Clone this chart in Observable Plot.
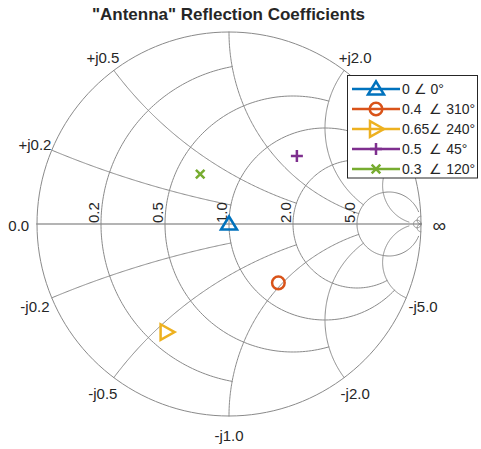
<!DOCTYPE html>
<html><head><meta charset="utf-8">
<script src="https://cdn.jsdelivr.net/npm/d3@7"></script>
<script src="https://cdn.jsdelivr.net/npm/@observablehq/plot@0.6"></script>
<style>
body{margin:0;background:#fff;}
#wrap{position:relative;width:481px;height:449px;font-family:"Liberation Sans",Arial,Helvetica,sans-serif;}
#wrap svg{position:absolute;left:0;top:0;}
</style></head><body><div id="wrap"></div>
<script>
// ---- data ----
const titleText = "\"Antenna\" Reflection Coefficients";
const gridValues = [0.2, 0.5, 1, 2, 5, 50];
const gridLimits = [1, 2, 5, 5, 30, Infinity];
const resLabelValues = [0.2, 0.5, 1, 2, 5];
const resLabelText = ["0.2", "0.5", "1.0", "2.0", "5.0"];
const reacLabelValues = [0.2, 0.5, 2, -0.2, -0.5, -1, -2, -5];
const reacLabelText = ["+j0.2", "+j0.5", "+j2.0", "-j0.2", "-j0.5", "-j1.0", "-j2.0", "-j5.0"];
const endLabelText = ["0.0", "\u221E"];
const magnitudes = [0, 0.4, 0.65, 0.5, 0.3];
const anglesDeg = [0, 310, 240, 45, 120];
const seriesNames = ["0 \u2220 0\u00B0", "0.4  \u2220 310\u00B0", "0.65\u2220 240\u00B0", "0.5  \u2220 45\u00B0", "0.3  \u2220 120\u00B0"];
const colors = ["#0072BD", "#D95319", "#EDB120", "#7E2F8E", "#77AC30"];

// ---- helpers ----
function gam(r, x) {
  if (!isFinite(r) || !isFinite(x)) return [1, 0];
  const d = (r + 1) * (r + 1) + x * x;
  return [(r * r + x * x - 1) / d, (2 * x) / d];
}
const N = 160;
const gridPts = [];
let gid = 0;
function addResCircle(v, L) {
  const c = v / (1 + v), rho = 1 / (1 + v);
  const g = gam(v, L);
  const p0 = Math.atan2(g[1], g[0] - c);
  const p1 = 2 * Math.PI - p0;
  const id = gid++;
  for (let i = 0; i <= N; i++) {
    const p = p0 + (p1 - p0) * i / N;
    gridPts.push({x: c + rho * Math.cos(p), y: rho * Math.sin(p), id});
  }
}
function addReacArc(v, L, sign) {
  const cy = 1 / v, rad = 1 / v;
  const ang = (g) => { let a = Math.atan2(g[1] - cy, g[0] - 1); if (a > 0) a -= 2 * Math.PI; return a; };
  const a0 = ang(gam(0, v)), a1 = ang(gam(L, v));
  const id = gid++;
  for (let i = 0; i <= N; i++) {
    const a = a0 + (a1 - a0) * i / N;
    gridPts.push({x: 1 + rad * Math.cos(a), y: sign * (cy + rad * Math.sin(a)), id});
  }
}
addResCircle(0, Infinity);
gridValues.forEach((v, i) => {
  addResCircle(v, gridLimits[i]);
  addReacArc(v, gridLimits[i], 1);
  addReacArc(v, gridLimits[i], -1);
});
const axisPts = [{x: -1, y: 0}, {x: 1, y: 0}];

const resLabels = resLabelValues.map((r, i) => ({x: (r - 1) / (r + 1), y: 0, t: resLabelText[i]}));
const LR = 1.095;
const reacLabels = reacLabelValues.map((v, i) => { const g = gam(0, v); return {x: LR * g[0], y: LR * g[1], t: reacLabelText[i]}; });
const endLabels = [{x: -LR, y: 0, t: endLabelText[0], s: 15}, {x: LR, y: 0, t: endLabelText[1], s: 19}];

const pts = magnitudes.map((m, i) => ({
  x: m * Math.cos(anglesDeg[i] * Math.PI / 180),
  y: m * Math.sin(anglesDeg[i] * Math.PI / 180), i
}));

// custom marker symbols (pixel sized)
const symTriUp = {draw(c) { c.moveTo(0, -7.5); c.lineTo(8, 5.5); c.lineTo(-8, 5.5); c.closePath(); }};
const symCircle = {draw(c) { c.moveTo(6.3, 0); c.arc(0, 0, 6.3, 0, 2 * Math.PI); c.closePath(); }};
const symTriRight = {draw(c) { c.moveTo(8, 0); c.lineTo(-6, -7.8); c.lineTo(-6, 7.8); c.closePath(); }};
const symPlus = {draw(c) { c.moveTo(-6, 0); c.lineTo(6, 0); c.moveTo(0, -6); c.lineTo(0, 6); }};
const symTimes = {draw(c) { c.moveTo(-4.3, -4.3); c.lineTo(4.3, 4.3); c.moveTo(-4.3, 4.3); c.lineTo(4.3, -4.3); }};
const symbols = [symTriUp, symCircle, symTriRight, symPlus, symTimes];

const CX = 228.5, CY = 223.5, R = 192;
const plot = Plot.plot({
  width: 481, height: 449,
  marginTop: 0, marginBottom: 0, marginLeft: 0, marginRight: 0,
  x: {domain: [-1, 1], range: [CX - R, CX + R], axis: null},
  y: {domain: [-1, 1], range: [CY + R, CY - R], axis: null},
  style: {fontFamily: "'Liberation Sans', Arial, Helvetica, sans-serif", background: "transparent"},
  marks: [
    Plot.line(axisPts, {x: "x", y: "y", stroke: "#b4b4b4", strokeWidth: 2}),
    Plot.line(gridPts, {x: "x", y: "y", z: "id", stroke: "#8a8a8a", strokeWidth: 1}),
    Plot.text(resLabels, {x: "x", y: "y", text: "t", rotate: -90, textAnchor: "start", lineAnchor: "bottom", dx: -2.5, dy: -1, fontSize: 15, fill: "#262626"}),
    Plot.text(reacLabels, {x: "x", y: "y", text: "t", fontSize: 15, dy: 2, fill: "#262626"}),
    Plot.text(endLabels, {x: "x", y: "y", text: "t", fontSize: "s", dy: 2, fill: "#262626"}),
    ...pts.map((p, i) => Plot.dot([p], {x: "x", y: "y", symbol: symbols[i], stroke: colors[i], strokeWidth: 2.5, fill: "none"}))
  ]
});
const wrap = document.getElementById("wrap");
wrap.appendChild(plot);

// overlay: title + legend
const ov = d3.select(wrap).append("svg").attr("width", 481).attr("height", 449)
  .style("font-family", "'Liberation Sans', Arial, Helvetica, sans-serif");
ov.append("text").attr("x", 228.5).attr("y", 20).attr("text-anchor", "middle")
  .attr("font-weight", "bold").attr("font-size", 17).attr("fill", "#262626").text(titleText);
const lg = ov.append("g");
lg.append("rect").attr("x", 347.5).attr("y", 75.5).attr("width", 130).attr("height", 102.5)
  .attr("fill", "#fff").attr("stroke", "#262626").attr("stroke-width", 1);
seriesNames.forEach((name, i) => {
  const y = 89 + 20 * i;
  lg.append("line").attr("x1", 352).attr("x2", 400).attr("y1", y).attr("y2", y)
    .attr("stroke", colors[i]).attr("stroke-width", 2.5);
  lg.append("path").attr("d", d3.symbol(symbols[i])()).attr("transform", `translate(376,${y})`)
    .attr("fill", "none").attr("stroke", colors[i]).attr("stroke-width", 2.5);
  lg.append("text").attr("x", 402).attr("y", y + 5).attr("font-size", 14).attr("fill", "#262626")
    .style("white-space", "pre").attr("xml:space", "preserve").text(name);
});
</script></body></html>
